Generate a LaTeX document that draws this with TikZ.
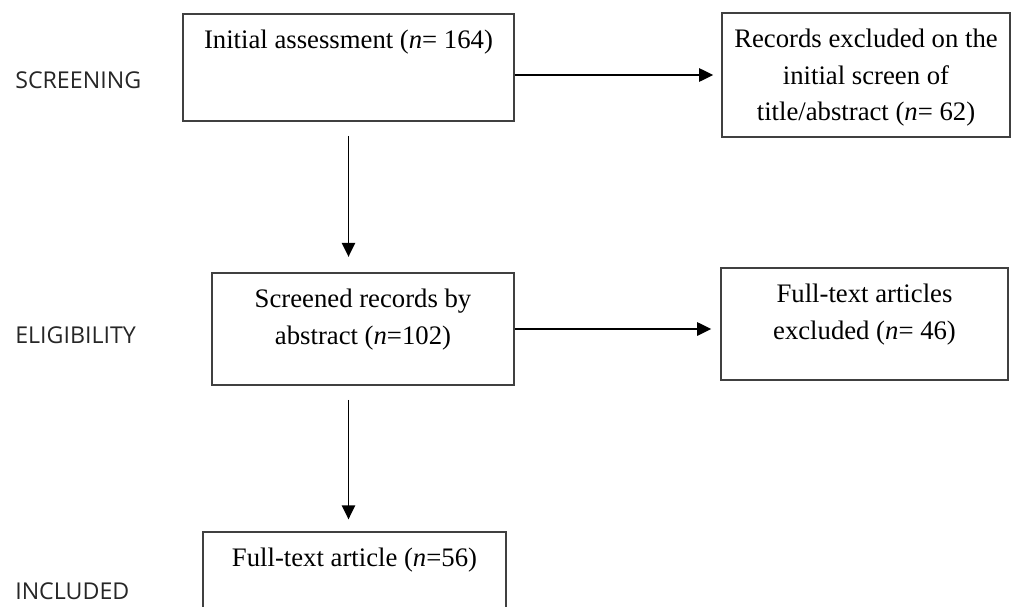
\documentclass[tikz,border=0pt]{standalone}
\usepackage{fontspec}
\setmainfont{Liberation Serif}
\newfontfamily\stagefont{Open Sans}
\usetikzlibrary{arrows.meta,positioning}

\begin{document}
\begin{tikzpicture}[x=0.025cm,y=-0.025cm,>={Triangle[length=10pt,width=9.5pt]},
    every node/.style={inner sep=0pt},
    box/.style={draw=black!75,line width=1pt,rectangle},
    boxtext/.style={align=center,font=\fontsize{19}{26}\selectfont},
    stage/.style={anchor=west,text=black!85,font=\stagefont\fontsize{16.5}{18}\selectfont},
    link/.style={->,line width=1.1pt}]
    \useasboundingbox (0,0) rectangle (1014,606);
    % stages
    \node[stage] (screening) at (15,80) {SCREENING};
    \node[stage] (eligibility) at (15,335) {ELIGIBILITY};
    \node[stage] (included) at (15,591) {INCLUDED};
    % boxes
    \node[box,minimum width=8.275cm,minimum height=2.675cm] (assess) at (348.5,67.5) {};
    \node[box,minimum width=7.2cm,minimum height=3.1cm] (excl_title) at (866,75) {};
    \node[box,minimum width=7.55cm,minimum height=2.8cm] (screened) at (363,329) {};
    \node[box,minimum width=7.175cm,minimum height=2.8cm] (excl_full) at (864.5,324) {};
    \node[box,minimum width=7.575cm,minimum height=2.5cm] (fulltext) at (354.5,582) {};
    % box texts
    \node[boxtext,below=0.41cm of assess.north] (assess_txt) {Initial assessment (\textit{n}= 164)};
    \node[boxtext,below=0.41cm of excl_title.north] (excl_title_txt) {Records excluded on the\\initial screen of\\title/abstract (\textit{n}= 62)};
    \node[boxtext,below=0.41cm of screened.north] (screened_txt) {Screened records by\\abstract (\textit{n}=102)};
    \node[boxtext,below=0.41cm of excl_full.north] (excl_full_txt) {Full-text articles\\excluded (\textit{n}= 46)};
    \node[boxtext,below=0.41cm of fulltext.north] (fulltext_txt) {Full-text article (\textit{n}=56)};
    % arrows
    \draw[link,shorten >=5.7pt] (assess.east |- excl_title.west) -- (excl_title.west);
    \draw[link,shorten <=10pt,shorten >=11pt,xshift=1.8pt] (assess.south) -- (assess.south |- screened.north);
    \draw[link,shorten >=6.4pt] (screened.east) -- (screened.east -| excl_full.west);
    \draw[link,shorten <=10pt,shorten >=8.5pt,xshift=1.8pt] (screened.south -| assess.south) -- (fulltext.north -| assess.south);
\end{tikzpicture}
\end{document}
